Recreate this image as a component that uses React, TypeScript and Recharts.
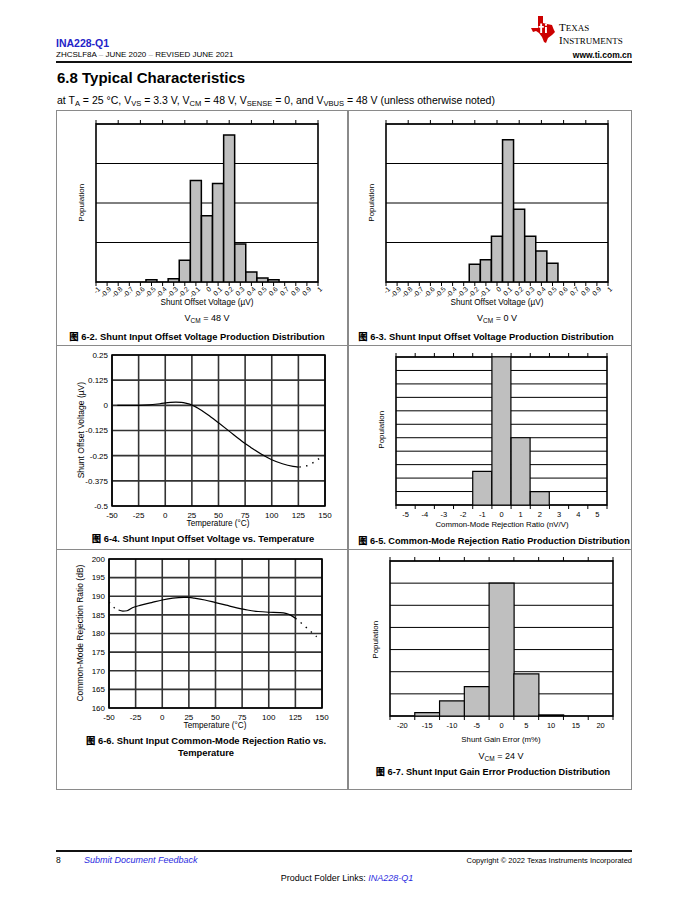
import React from 'react';
import { ComposedChart, Bar, Line, XAxis, YAxis, CartesianGrid, ReferenceArea } from 'recharts';

const SANS = '"Liberation Sans", Arial, Helvetica, sans-serif';
const SERIF = '"Liberation Serif", "Times New Roman", serif';
const CJK = '"Noto Sans CJK SC", "Liberation Sans", sans-serif';
const BLUE = '#2323c8';
const LINK = '#2b2be0';

// ---------- Figure 6-2 / 6-3 : shunt offset voltage histograms ----------
const offsetTickLabels = [-1, -0.9, -0.8, -0.7, -0.6, -0.5, -0.4, -0.3, -0.2, -0.1, 0, 0.1, 0.2, 0.3, 0.4, 0.5, 0.6, 0.7, 0.8, 0.9, 1];
const offsetTopTicks = [-1, -0.8, -0.6, -0.4, -0.2, 0, 0.2, 0.4, 0.6, 0.8, 1];
const offsetBins48 = [-0.5, -0.3, -0.2, -0.1, 0, 0.1, 0.2, 0.3, 0.4, 0.5, 0.6];
const offsetPopulation48 = [1.5, 2, 13.7, 64.2, 41.9, 62.3, 93, 24, 6.3, 2.5, 1.5];
const offsetBins0 = [-0.2, -0.1, 0, 0.1, 0.2, 0.3, 0.4, 0.5];
const offsetPopulation0 = [11.2, 14.1, 29, 90, 46, 29, 19.6, 11.8];
const offsetPopulationGrid = [0, 25, 50, 75, 100];

// ---------- Figure 6-4 : offset vs temperature ----------
const tempTicks = [-50, -25, 0, 25, 50, 75, 100, 125, 150];
const offsetVoltTicks = [-0.5, -0.375, -0.25, -0.125, 0, 0.125, 0.25];
const offsetTempSolidT = [-45, -35, -25, -15, -5, 5, 10, 15, 20, 25, 30, 40, 50, 60, 70, 75, 80, 90, 100, 110, 120, 125];
const offsetTempSolidV = [0, 0, 0, 0.002, 0.008, 0.015, 0.016, 0.015, 0.01, 0.002, -0.012, -0.047, -0.087, -0.128, -0.17, -0.19, -0.208, -0.242, -0.27, -0.29, -0.303, -0.307];
const offsetTempDotT = [126, 133, 140, 147];
const offsetTempDotV = [-0.306, -0.3, -0.281, -0.254];

// ---------- Figure 6-5 : CMRR histogram ----------
const cmrrBins = [-1, 0, 1, 2];
const cmrrPopulation = [2.5, 11, 5, 1];
const cmrrTickLabels = [-5, -4, -3, -2, -1, 0, 1, 2, 3, 4, 5];
const cmrrBinEdges = [-5.5, -4.5, -3.5, -2.5, -1.5, -0.5, 0.5, 1.5, 2.5, 3.5, 4.5, 5.5];
const cmrrPopulationGrid = [0, 1, 2, 3, 4, 5, 6, 7, 8, 9, 10, 11];

// ---------- Figure 6-6 : CMRR vs temperature ----------
const cmrrDbTicks = [160, 165, 170, 175, 180, 185, 190, 195, 200];
const cmrrTempSolidT = [-41, -37, -33, -28, -20, -10, 0, 10, 20, 25, 30, 40, 50, 60, 70, 80, 90, 100, 110, 116, 120, 125];
const cmrrTempSolidV = [186.3, 186.0, 186.1, 186.9, 187.6, 188.3, 189.0, 189.5, 189.7, 189.7, 189.5, 189.0, 188.3, 187.6, 186.9, 186.3, 185.9, 185.7, 185.6, 185.4, 185.0, 184.1];
const cmrrTempDotLeftT = [-50, -45, -41];
const cmrrTempDotLeftV = [188.4, 186.9, 186.3];
const cmrrTempDotRightT = [125, 131, 138, 145];
const cmrrTempDotRightV = [184.1, 182.7, 180.9, 179.1];

// ---------- Figure 6-7 : gain error histogram ----------
const gainBins = [-15, -10, -5, 0, 5, 10];
const gainPopulation = [0.15, 0.68, 1.33, 6.0, 1.9, 0.05];
const gainTickLabels = [-20, -15, -10, -5, 0, 5, 10, 15, 20];
const gainBinEdges = [-22.5, -17.5, -12.5, -7.5, -2.5, 2.5, 7.5, 12.5, 17.5, 22.5];
const gainPopulationGrid = [0, 1, 2, 3, 4, 5, 6, 7];

const zip = (xs: number[], ys: number[], kx: string, ky: string) => xs.map((x, i) => ({ [kx]: x, [ky]: ys[i] }));

// ---------- text helper ----------
function T({ x, y, size, children, bold, italic, color = '#000', anchor = 'start', family = SANS, rotate }: any) {
  const lh = size * 1.2;
  const style: React.CSSProperties = {
    position: 'absolute', top: y - lh / 2, lineHeight: `${lh}px`, height: lh, fontSize: size, fontFamily: family,
    fontWeight: bold ? 700 : 400, fontStyle: italic ? 'italic' : 'normal', color, whiteSpace: 'nowrap',
  };
  if (rotate) {
    style.left = x;
    style.transform = 'translateX(-50%) rotate(-90deg)';
    style.transformOrigin = 'center center';
  } else if (anchor === 'start') style.left = x;
  else if (anchor === 'end') style.right = 688 - x;
  else { style.left = x; style.transform = 'translateX(-50%)'; }
  return <div style={style}>{children}</div>;
}
const Sub = ({ children }: any) => <span style={{ fontSize: '0.72em', position: 'relative', top: '0.32em' }}>{children}</span>;
const Fig = () => <span style={{ fontFamily: CJK, fontWeight: 900 }}>图</span>;

// ---------- tick renderers ----------
const EmptyTick = () => <g />;
const RotatedTick = (props: any) => {
  const { x, y, payload } = props;
  const ax = x + 3;
  const ay = y + 2;
  return (
    <text x={ax} y={ay} transform={`rotate(-45 ${ax} ${ay})`} textAnchor="end" dy="0.35em" fontSize={6.8} fontFamily={SANS} fill="#000">
      {payload.value}
    </text>
  );
};
function makeBinTick(labels: number[], fontSize: number) {
  return (props: any) => {
    const { x, y, payload } = props;
    if (labels.includes(payload.value)) {
      return (
        <text x={x} y={y + 9} dy="0.35em" textAnchor="middle" fontSize={fontSize} fontFamily={SANS} fill="#000">
          {payload.value}
        </text>
      );
    }
    return <line x1={x} x2={x} y1={y} y2={y + 4} stroke="#000" strokeWidth={1} />;
  };
}

// ---------- histogram ----------
function Histogram(p: any) {
  const padL = 4, padT = 8, padR = 8, padB = 22, topH = 4;
  return (
    <div style={{ position: 'absolute', left: p.plot.x - padL, top: p.plot.y - padT }}>
      <ComposedChart width={p.plot.w + padL + padR} height={p.plot.h + padT + padB} data={p.data}
        margin={{ top: padT - topH, right: padR, bottom: 0, left: padL - 1 }} barCategoryGap={0} barGap={0}>
        <CartesianGrid vertical={false} horizontalValues={p.yTicks} stroke="#000" strokeWidth={1} />
        <XAxis xAxisId="top" dataKey="v" orientation="top" type="number" domain={p.domain} ticks={p.topTicks} interval={0}
          tick={EmptyTick} tickSize={4} tickMargin={0} axisLine={false} tickLine={{ stroke: '#000' }} height={topH} allowDataOverflow />
        <XAxis dataKey="v" type="number" domain={p.domain} ticks={p.bottomTicks} interval={0} tick={p.bottomTick}
          tickSize={p.bottomTickSize} tickMargin={0} tickLine={p.bottomTickSize > 0 ? { stroke: '#000' } : false}
          axisLine={false} height={padB} allowDataOverflow />
        <YAxis type="number" domain={p.yDomain} ticks={p.yTicks} interval={0} width={1} tick={EmptyTick} axisLine={false} tickLine={false} allowDataOverflow />
        <Bar dataKey="pop" fill="#BFBFBF" stroke="#000" strokeWidth={p.barStroke} isAnimationActive={false} />
        <ReferenceArea x1={p.domain[0]} x2={p.domain[1]} y1={p.yDomain[0]} y2={p.yDomain[1]} fill="none"
          stroke="#000" strokeWidth={1.6} ifOverflow="visible" />
      </ComposedChart>
    </div>
  );
}

// ---------- temperature line chart ----------
function TempChart(p: any) {
  const yw = 40, padL = 44, padT = 6, padR = 8, padB = 20;
  const tickStyle = { fontSize: 8, fill: '#000', fontFamily: SANS };
  return (
    <div style={{ position: 'absolute', left: p.plot.x - padL, top: p.plot.y - padT }}>
      <ComposedChart width={p.plot.w + padL + padR} height={p.plot.h + padT + padB}
        margin={{ top: padT, right: padR, bottom: 0, left: padL - yw }}>
        <CartesianGrid stroke="#333" strokeWidth={1.6} />
        <XAxis dataKey="t" type="number" domain={[-50, 150]} ticks={tempTicks} interval={0} tickSize={0} tickMargin={6}
          axisLine={false} tick={tickStyle} height={padB} allowDataOverflow />
        <YAxis type="number" domain={p.yDomain} ticks={p.yTicks} interval={0} width={yw} tickSize={0} tickMargin={4}
          axisLine={false} tick={tickStyle} allowDataOverflow />
        {p.series.map((s: any, i: number) => (
          <Line key={i} data={s.data} dataKey="v" type="monotone" stroke="#000" strokeWidth={s.dotted ? 1.4 : 1.2}
            strokeDasharray={s.dotted ? '1.4 5.4' : undefined} dot={false} activeDot={false} isAnimationActive={false} />
        ))}
        <ReferenceArea x1={-50} x2={150} y1={p.yDomain[0]} y2={p.yDomain[1]} fill="none" stroke="#000" strokeWidth={1.6} ifOverflow="visible" />
      </ComposedChart>
    </div>
  );
}

function TiLogo() {
  return (
    <>
      <svg style={{ position: 'absolute', left: 529, top: 16 }} width={28} height={27} viewBox="0 0 24 27">
        <path d="M7 0 H12 V7 L16 8 L21 9 L22.5 13 L24 16 L21 19 L17 22 L15 27 L13 26 L11 21 L8 17 L5 15 L2 16 L0 12 L7 12 Z" fill="#CC0000" />
        <rect x={9.2} y={7.5} width={1.9} height={9.5} fill="#fff" />
        <rect x={7.6} y={10} width={5.2} height={1.7} fill="#fff" />
        <rect x={14} y={11} width={1.9} height={6} fill="#fff" />
        <circle cx={15} cy={8.8} r={1.1} fill="#fff" />
      </svg>
      <T x={559} y={28} size={11} family={SERIF}>T<span style={{ fontSize: 9 }}>EXAS</span></T>
      <T x={559} y={41} size={11} family={SERIF}>I<span style={{ fontSize: 9 }}>NSTRUMENTS</span></T>
    </>
  );
}

export default function App() {
  const sep = <span style={{ color: '#aaa' }}> – </span>;
  return (
    <div style={{ position: 'absolute', left: 0, top: 0, width: 688, height: 905, background: '#fff', overflow: 'hidden', fontFamily: SANS }}>
      {/* header */}
      <T x={56} y={43} size={10.5} bold color={BLUE}>INA228-Q1</T>
      <T x={56} y={55} size={8}>ZHCSLF8A{sep}JUNE 2020{sep}REVISED JUNE 2021</T>
      <TiLogo />
      <T x={632} y={55} size={8.5} bold anchor="end">www.ti.com.cn</T>
      <div style={{ position: 'absolute', left: 56, top: 61, width: 576, height: 2, background: '#111' }} />
      <T x={57} y={78} size={15} bold>6.8 Typical Characteristics</T>
      <T x={57} y={100} size={10.5}>
        at T<Sub>A</Sub> = 25 °C, V<Sub>VS</Sub> = 3.3 V, V<Sub>CM</Sub> = 48 V, V<Sub>SENSE</Sub> = 0, and V<Sub>VBUS</Sub> = 48 V (unless otherwise noted)
      </T>

      {/* frame */}
      <div style={{ position: 'absolute', left: 56, top: 110, width: 576, height: 680, border: '1.5px solid #8a8a8a', boxSizing: 'border-box' }} />
      <div style={{ position: 'absolute', left: 347, top: 110, width: 1.5, height: 680, background: '#8a8a8a' }} />
      <div style={{ position: 'absolute', left: 56, top: 344.5, width: 576, height: 1.5, background: '#8a8a8a' }} />
      <div style={{ position: 'absolute', left: 56, top: 548.5, width: 576, height: 1.5, background: '#8a8a8a' }} />

      {/* Figure 6-2 */}
      <Histogram plot={{ x: 96, y: 124, w: 222, h: 158 }} data={zip(offsetBins48, offsetPopulation48, 'v', 'pop')}
        domain={[-1, 1]} bottomTicks={offsetTickLabels} bottomTick={RotatedTick} bottomTickSize={4} topTicks={offsetTopTicks}
        yDomain={[0, 100]} yTicks={offsetPopulationGrid} barStroke={1.5} />
      <T x={82} y={203} size={8} rotate>Population</T>
      <T x={207} y={303} size={8.2} anchor="middle">Shunt Offset Voltage (µV)</T>
      <T x={207} y={318} size={9} anchor="middle">V<Sub>CM</Sub> = 48 V</T>
      <T x={197} y={337} size={9.4} bold anchor="middle"><Fig /> 6-2. Shunt Input Offset Voltage Production Distribution</T>

      {/* Figure 6-3 */}
      <Histogram plot={{ x: 386, y: 124, w: 222, h: 158 }} data={zip(offsetBins0, offsetPopulation0, 'v', 'pop')}
        domain={[-1, 1]} bottomTicks={offsetTickLabels} bottomTick={RotatedTick} bottomTickSize={4} topTicks={offsetTopTicks}
        yDomain={[0, 100]} yTicks={offsetPopulationGrid} barStroke={1.5} />
      <T x={372} y={203} size={8} rotate>Population</T>
      <T x={497} y={303} size={8.2} anchor="middle">Shunt Offset Voltage (µV)</T>
      <T x={497} y={318} size={9} anchor="middle">V<Sub>CM</Sub> = 0 V</T>
      <T x={486} y={337} size={9.4} bold anchor="middle"><Fig /> 6-3. Shunt Input Offset Voltage Production Distribution</T>

      {/* Figure 6-4 */}
      <TempChart plot={{ x: 112, y: 355, w: 213, h: 151 }} yDomain={[-0.5, 0.25]} yTicks={offsetVoltTicks}
        series={[
          { data: zip(offsetTempSolidT, offsetTempSolidV, 't', 'v') },
          { data: zip(offsetTempDotT, offsetTempDotV, 't', 'v'), dotted: true },
        ]} />
      <T x={81} y={430} size={8.5} rotate>Shunt Offset Voltage (µV)</T>
      <T x={218} y={524} size={8.2} anchor="middle">Temperature (°C)</T>
      <T x={203} y={539} size={9.4} bold anchor="middle"><Fig /> 6-4. Shunt Input Offset Voltage vs. Temperature</T>

      {/* Figure 6-5 */}
      <Histogram plot={{ x: 396, y: 357, w: 211, h: 148 }} data={zip(cmrrBins, cmrrPopulation, 'v', 'pop')}
        domain={[-5.5, 5.5]} bottomTicks={[...cmrrBinEdges, ...cmrrTickLabels].sort((a, b) => a - b)}
        bottomTick={makeBinTick(cmrrTickLabels, 7.5)} bottomTickSize={0} topTicks={cmrrBinEdges}
        yDomain={[0, 11]} yTicks={cmrrPopulationGrid} barStroke={1.2} />
      <T x={382} y={430} size={8} rotate>Population</T>
      <T x={502} y={525} size={7.8} anchor="middle">Common-Mode Rejection Ratio (nV/V)</T>
      <T x={494} y={541} size={9.2} bold anchor="middle"><Fig /> 6-5. Common-Mode Rejection Ratio Production Distribution</T>

      {/* Figure 6-6 */}
      <TempChart plot={{ x: 109, y: 559, w: 213, h: 149 }} yDomain={[160, 200]} yTicks={cmrrDbTicks}
        series={[
          { data: zip(cmrrTempSolidT, cmrrTempSolidV, 't', 'v') },
          { data: zip(cmrrTempDotLeftT, cmrrTempDotLeftV, 't', 'v'), dotted: true },
          { data: zip(cmrrTempDotRightT, cmrrTempDotRightV, 't', 'v'), dotted: true },
        ]} />
      <T x={80} y={633} size={8.5} rotate>Common-Mode Rejection Ratio (dB)</T>
      <T x={215} y={726} size={8.2} anchor="middle">Temperature (°C)</T>
      <T x={206} y={741} size={9.4} bold anchor="middle"><Fig /> 6-6. Shunt Input Common-Mode Rejection Ratio vs.</T>
      <T x={206} y={753} size={9.4} bold anchor="middle">Temperature</T>

      {/* Figure 6-7 */}
      <Histogram plot={{ x: 390, y: 561, w: 223, h: 155 }} data={zip(gainBins, gainPopulation, 'v', 'pop')}
        domain={[-22.5, 22.5]} bottomTicks={[...gainBinEdges, ...gainTickLabels].sort((a, b) => a - b)}
        bottomTick={makeBinTick(gainTickLabels, 7.5)} bottomTickSize={0} topTicks={gainBinEdges}
        yDomain={[0, 7]} yTicks={gainPopulationGrid} barStroke={1.2} />
      <T x={376} y={640} size={8} rotate>Population</T>
      <T x={501} y={740} size={7.8} anchor="middle">Shunt Gain Error (m%)</T>
      <T x={501} y={756} size={9} anchor="middle">V<Sub>CM</Sub> = 24 V</T>
      <T x={493} y={772} size={9.2} bold anchor="middle"><Fig /> 6-7. Shunt Input Gain Error Production Distribution</T>

      {/* footer */}
      <div style={{ position: 'absolute', left: 56, top: 850, width: 576, height: 2, background: '#111' }} />
      <T x={56} y={860} size={8.5}>8</T>
      <T x={84} y={860} size={9} italic color={LINK}>Submit Document Feedback</T>
      <T x={632} y={860} size={7.5} anchor="end">Copyright © 2022 Texas Instruments Incorporated</T>
      <T x={347} y={878} size={9} anchor="middle">Product Folder Links: <span style={{ color: LINK, fontStyle: 'italic' }}>INA228-Q1</span></T>
    </div>
  );
}
